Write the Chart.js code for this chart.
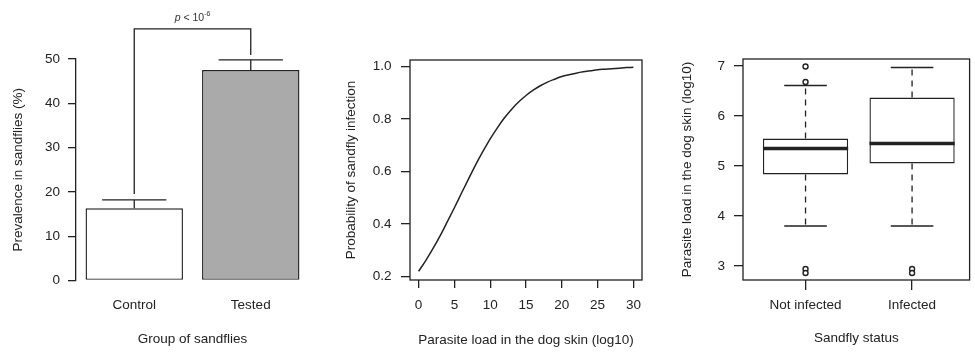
<!DOCTYPE html>
<html>
<head>
<meta charset="utf-8">
<script src="https://cdn.jsdelivr.net/npm/chart.js@4.4.1/dist/chart.umd.min.js"></script>
<style>
  body { margin: 0; background: #fff; }
  #wrap { position: relative; width: 975px; height: 354px; overflow: hidden; }
  canvas { position: absolute; top: 0; }
</style>
</head>
<body>
<div id="wrap">
  <canvas id="barChart" width="330" height="354" style="left:0px"></canvas>
  <canvas id="curveChart" width="330" height="354" style="left:330px"></canvas>
  <canvas id="boxChart" width="315" height="354" style="left:660px"></canvas>
</div>
<script>
// panel 1 - prevalence by group
const barGroups = ["Control", "Tested"];
const prevalence = [16.3, 47.5];
const prevalenceUpper = [18.2, 49.8];
const prevTicks = [0, 10, 20, 30, 40, 50];
const bracketLevel = 56.8;
const bracketEnds = [19.5, 50.9];
const pLabelLevel = 59.3;

// panel 2 - probability curve
const loadValues = [0, 1, 2, 3, 4, 5, 6, 7, 8, 9, 10, 11, 12, 13, 14, 15, 16, 17, 18, 19, 20, 21, 22, 23, 24, 25, 26, 27, 28, 29, 30];
const probInfection = [0.220, 0.261, 0.306, 0.355, 0.408, 0.462, 0.518, 0.573, 0.627, 0.677, 0.724, 0.766, 0.804, 0.837, 0.865, 0.889, 0.909, 0.926, 0.940, 0.951, 0.961, 0.968, 0.974, 0.979, 0.983, 0.987, 0.989, 0.991, 0.993, 0.995, 0.996];
const probTicks = [0.2, 0.4, 0.6, 0.8, 1.0];
const loadTicks = [0, 5, 10, 15, 20, 25, 30];

// panel 3 - boxplots
const statusGroups = ["Not infected", "Infected"];
const boxQ1 = [4.83, 5.05];
const boxMedian = [5.35, 5.45];
const boxQ3 = [5.55, 6.37];
const whiskerLow = [3.8, 3.8];
const whiskerHigh = [6.61, 6.97];
const outlierGroup = [1, 1, 1, 1, 2, 2];
const outlierValues = [6.99, 6.68, 2.94, 2.86, 2.94, 2.86];
const skinTicks = [3, 4, 5, 6, 7];

const ink = "#222";
Chart.defaults.font.family = '"Liberation Sans", Arial, Helvetica, sans-serif';
Chart.defaults.font.size = 13.5;
Chart.defaults.color = ink;
Chart.defaults.animation = false;
Chart.defaults.plugins.legend.display = false;
Chart.defaults.plugins.tooltip.enabled = false;

function setTicks(list) {
  return function (scale) {
    scale.ticks = list.map(v => ({ value: v }));
  };
}

const framePlugin = {
  id: "frame",
  afterDraw(chart) {
    const a = chart.chartArea, ctx = chart.ctx;
    ctx.save();
    ctx.strokeStyle = ink;
    ctx.lineWidth = 1.3;
    ctx.strokeRect(a.left, a.top, a.right - a.left, a.bottom - a.top);
    ctx.restore();
  }
};

// error bars, bracket and p value on panel 1
const errorBarPlugin = {
  id: "errorBars",
  afterDatasetsDraw(chart) {
    const ctx = chart.ctx, y = chart.scales.y;
    const bars = chart.getDatasetMeta(0).data;
    ctx.save();
    ctx.strokeStyle = ink;
    ctx.lineWidth = 1.3;
    bars.forEach((bar, i) => {
      const top = y.getPixelForValue(prevalenceUpper[i]);
      const half = bar.width * 0.33;
      ctx.beginPath();
      ctx.moveTo(bar.x, bar.y);
      ctx.lineTo(bar.x, top);
      ctx.moveTo(bar.x - half, top);
      ctx.lineTo(bar.x + half, top);
      ctx.stroke();
    });
    const by = y.getPixelForValue(bracketLevel);
    ctx.beginPath();
    ctx.moveTo(bars[0].x, y.getPixelForValue(bracketEnds[0]));
    ctx.lineTo(bars[0].x, by);
    ctx.lineTo(bars[1].x, by);
    ctx.lineTo(bars[1].x, y.getPixelForValue(bracketEnds[1]));
    ctx.stroke();

    // "p < 10^-6"
    const py = y.getPixelForValue(pLabelLevel);
    const fam = Chart.defaults.font.family;
    const f1 = "italic 10.5px " + fam, f2 = "10.5px " + fam, f3 = "7px " + fam;
    ctx.font = f1; const w1 = ctx.measureText("p").width;
    ctx.font = f2; const w2 = ctx.measureText(" < 10").width;
    ctx.font = f3; const w3 = ctx.measureText("-6").width;
    let px = (bars[0].x + bars[1].x) / 2 - (w1 + w2 + w3) / 2;
    ctx.fillStyle = "#333";
    ctx.textBaseline = "middle";
    ctx.textAlign = "left";
    ctx.font = f1; ctx.fillText("p", px, py); px += w1;
    ctx.font = f2; ctx.fillText(" < 10", px, py); px += w2;
    ctx.font = f3; ctx.fillText("-6", px, py - 4);
    ctx.restore();
  }
};

// whiskers, caps and medians on panel 3
const whiskerPlugin = {
  id: "whiskers",
  afterDatasetDraw(chart, args) {
    if (args.index !== 0) return;
    const ctx = chart.ctx, y = chart.scales.y;
    const boxes = chart.getDatasetMeta(0).data;
    ctx.save();
    ctx.strokeStyle = ink;
    boxes.forEach((box, i) => {
      const cx = box.x, hw = box.width / 2, cap = box.width / 4;
      const yq1 = y.getPixelForValue(boxQ1[i]), yq3 = y.getPixelForValue(boxQ3[i]);
      const ylo = y.getPixelForValue(whiskerLow[i]), yhi = y.getPixelForValue(whiskerHigh[i]);
      ctx.lineWidth = 1.3;
      ctx.setLineDash([6, 5]);
      ctx.beginPath();
      ctx.moveTo(cx, yq3); ctx.lineTo(cx, yhi);
      ctx.moveTo(cx, yq1); ctx.lineTo(cx, ylo);
      ctx.stroke();
      ctx.setLineDash([]);
      ctx.beginPath();
      ctx.moveTo(cx - cap, yhi); ctx.lineTo(cx + cap, yhi);
      ctx.moveTo(cx - cap, ylo); ctx.lineTo(cx + cap, ylo);
      ctx.stroke();
      const ym = y.getPixelForValue(boxMedian[i]);
      ctx.lineWidth = 3.5;
      ctx.beginPath();
      ctx.moveTo(cx - hw, ym); ctx.lineTo(cx + hw, ym);
      ctx.stroke();
    });
    ctx.restore();
  }
};

new Chart(document.getElementById("barChart"), {
  type: "bar",
  data: {
    labels: barGroups,
    datasets: [{
      data: prevalence,
      backgroundColor: ["#ffffff", "#aaaaaa"],
      borderColor: ink,
      borderWidth: 1.4,
      borderSkipped: false,
      barPercentage: 0.836,
      categoryPercentage: 1
    }]
  },
  options: {
    responsive: false,
    layout: { padding: { top: 59, right: 21, left: 0, bottom: 0 } },
    scales: {
      x: {
        grid: { display: false, drawTicks: false },
        border: { display: false },
        ticks: { padding: 16.5 },
        title: { display: true, text: "Group of sandflies", padding: { top: 0, bottom: 7 } },
        afterFit: s => { s.height = 73.5; }
      },
      y: {
        min: 0, max: 50,
        afterBuildTicks: setTicks(prevTicks),
        grid: { drawOnChartArea: false, color: ink, tickLength: 8, lineWidth: 1.3 },
        border: { color: ink, width: 1.3 },
        ticks: { padding: 8 },
        title: { display: true, text: "Prevalence in sandflies (%)", padding: { top: 10, bottom: 0 } },
        afterFit: s => { s.width = 76; }
      }
    }
  },
  plugins: [errorBarPlugin]
});

new Chart(document.getElementById("curveChart"), {
  type: "line",
  data: {
    datasets: [{
      data: loadValues.map((v, i) => ({ x: v, y: probInfection[i] })),
      borderColor: ink,
      borderWidth: 1.5,
      pointRadius: 0,
      cubicInterpolationMode: "monotone",
      fill: false
    }]
  },
  options: {
    responsive: false,
    layout: { padding: { top: 60, right: 18, left: 0, bottom: 0 } },
    scales: {
      x: {
        type: "linear",
        min: -1.2, max: 31.2,
        afterBuildTicks: setTicks(loadTicks),
        grid: { drawOnChartArea: false, color: ink, tickLength: 8, lineWidth: 1.3 },
        border: { display: false },
        ticks: { padding: 9.5, maxRotation: 0 },
        title: { display: true, text: "Parasite load in the dog skin (log10)", padding: { top: 0, bottom: 6 } },
        afterFit: s => { s.height = 74; }
      },
      y: {
        min: 0.187, max: 1.024,
        afterBuildTicks: setTicks(probTicks),
        grid: { drawOnChartArea: false, color: ink, tickLength: 9, lineWidth: 1.3 },
        border: { display: false },
        ticks: { padding: 9.5, callback: v => v.toFixed(1) },
        title: { display: true, text: "Probability of sandfly infection", padding: { top: 13.5, bottom: 0 } },
        afterFit: s => { s.width = 80; }
      }
    }
  },
  plugins: [framePlugin]
});

new Chart(document.getElementById("boxChart"), {
  type: "bar",
  data: {
    datasets: [{
      data: statusGroups.map((g, i) => ({ x: i + 1, y: [boxQ1[i], boxQ3[i]] })),
      backgroundColor: "#ffffff",
      borderColor: ink,
      borderWidth: 1.4,
      borderSkipped: false,
      barPercentage: 0.8,
      categoryPercentage: 1,
      order: 1
    }, {
      type: "scatter",
      data: outlierValues.map((v, i) => ({ x: outlierGroup[i], y: v })),
      pointRadius: 2.5,
      pointBorderWidth: 1.4,
      pointBackgroundColor: "#ffffff",
      pointBorderColor: ink,
      order: 0
    }]
  },
  options: {
    responsive: false,
    layout: { padding: { top: 59, right: 4, left: 0, bottom: 0 } },
    scales: {
      x: {
        type: "linear",
        offset: false,
        min: 0.413, max: 2.54,
        afterBuildTicks: setTicks([1, 2]),
        grid: { drawOnChartArea: false, offset: false, color: ink, tickLength: 10, lineWidth: 1.3 },
        border: { display: false },
        ticks: { padding: 7, maxRotation: 0, callback: v => statusGroups[v - 1] },
        title: { display: true, text: "Sandfly status", padding: { top: 0, bottom: 8 } },
        afterFit: s => { s.height = 74; }
      },
      y: {
        min: 2.72, max: 7.14,
        afterBuildTicks: setTicks(skinTicks),
        grid: { drawOnChartArea: false, color: ink, tickLength: 9, lineWidth: 1.3 },
        border: { display: false },
        ticks: { padding: 9 },
        title: { display: true, text: "Parasite load in the dog skin (log10)", padding: { top: 19, bottom: 0 } },
        afterFit: s => { s.width = 83; }
      }
    }
  },
  plugins: [whiskerPlugin, framePlugin]
});
</script>
</body>
</html>
